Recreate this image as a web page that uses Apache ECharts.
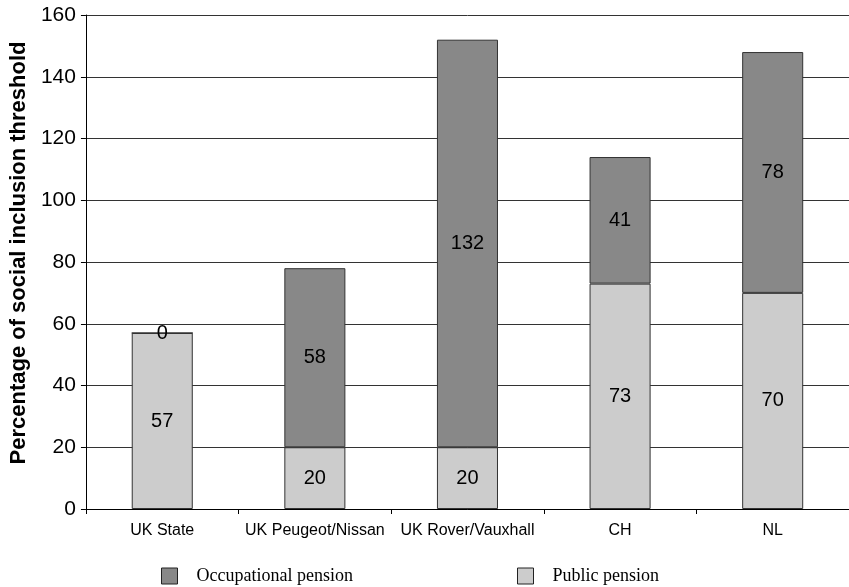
<!DOCTYPE html>
<html><head><meta charset="utf-8">
<script src="https://cdn.jsdelivr.net/npm/echarts@6/dist/echarts.min.js"></script>
<style>html,body{margin:0;padding:0;background:#fff}#c{width:849px;height:587px}</style>
</head><body><div id="c"></div>
<script>
const categories = ['UK State', 'UK Peugeot/Nissan', 'UK Rover/Vauxhall', 'CH', 'NL'];
const publicPension = [57, 20, 20, 73, 70];
const occupationalPension = [0, 58, 132, 41, 78];
const yTicks = [0, 20, 40, 60, 80, 100, 120, 140, 160];

const chart = echarts.init(document.getElementById('c'));
const labelStyle = { show: true, position: 'inside', color: '#000', fontFamily: 'Liberation Sans, Arial', fontSize: 20 };
const legendText = { fontFamily: 'Liberation Serif, Times New Roman', fontSize: 18, color: '#000', padding: [0, 0, 0, 14] };
chart.setOption({
  animation: false,
  backgroundColor: '#fff',
  grid: { left: 83, right: -4, top: 15, bottom: 78 },
  legend: [
    { data: ['Occupational pension'], icon: 'rect', left: 156, top: 562, itemWidth: 16, itemHeight: 16,
      itemStyle: { borderColor: '#222', borderWidth: 1 }, textStyle: legendText },
    { data: ['Public pension'], icon: 'rect', left: 512, top: 562, itemWidth: 16, itemHeight: 16,
      itemStyle: { borderColor: '#222', borderWidth: 1 }, textStyle: legendText }
  ],
  xAxis: {
    type: 'category', data: categories,
    axisLine: { lineStyle: { color: '#000', width: 1 } },
    axisTick: { show: true, alignWithLabel: false, length: 5, lineStyle: { color: '#000' } },
    axisLabel: { color: '#000', fontFamily: 'Liberation Sans, Arial', fontSize: 16, margin: 14, interval: 0 }
  },
  yAxis: {
    type: 'value', min: yTicks[0], max: yTicks[yTicks.length - 1], interval: 20,
    name: 'Percentage of social inclusion threshold', nameLocation: 'middle', nameGap: 55,
    nameTextStyle: { fontFamily: 'Liberation Sans, Arial', fontWeight: 'bold', fontSize: 22, color: '#000', padding: [0, 0, 0, 18] },
    axisLine: { show: true, lineStyle: { color: '#000', width: 1 } },
    axisTick: { show: true, length: 5, lineStyle: { color: '#000' } },
    axisLabel: { color: '#000', fontFamily: 'Liberation Sans, Arial', fontSize: 21, margin: 10 },
    splitLine: { lineStyle: { color: '#333', width: 1 } }
  },
  series: [
    { name: 'Public pension', type: 'bar', stack: 'a', data: publicPension, barWidth: '40%',
      itemStyle: { color: '#cccccc', borderColor: '#333', borderWidth: 1 }, label: labelStyle },
    { name: 'Occupational pension', type: 'bar', stack: 'a', data: occupationalPension, barWidth: '40%',
      itemStyle: { color: '#888888', borderColor: '#333', borderWidth: 1 }, label: labelStyle }
  ]
});
</script></body></html>
